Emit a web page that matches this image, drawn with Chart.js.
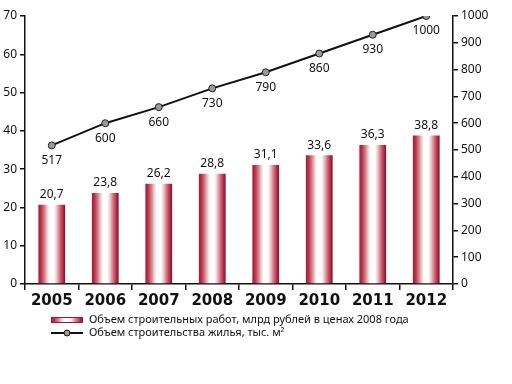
<!DOCTYPE html>
<html>
<head>
<meta charset="utf-8">
<script src="https://cdn.jsdelivr.net/npm/chart.js@4.4.0/dist/chart.umd.min.js"></script>
<style>
  html, body { margin: 0; padding: 0; background: #fff; }
  #wrap { width: 512px; height: 384px; position: relative; }
</style>
</head>
<body>
<div id="wrap"><canvas id="chart"></canvas></div>
<script>
const years = ['2005', '2006', '2007', '2008', '2009', '2010', '2011', '2012'];
const worksVolume = [20.7, 23.8, 26.2, 28.8, 31.1, 33.6, 36.3, 38.8];
const housingVolume = [517, 600, 660, 730, 790, 860, 930, 1000];
const worksLabel = 'Объем строительных работ, млрд рублей в ценах 2008 года';
const housingLabel = 'Объем строительства жилья, тыс. м²';

const textFont = '"Noto Sans", sans-serif';
const barPercent = 0.5;

// horizontal stripe gradient, like two shiny cylinders side by side
function stripeGradient(c, left, width) {
    const g = c.createLinearGradient(left, 0, left + width, 0);
    g.addColorStop(0, '#a01a34');
    g.addColorStop(0.1, '#b83448');
    g.addColorStop(0.22, '#d27c88');
    g.addColorStop(0.34, '#f0d4d6');
    g.addColorStop(0.42, '#ffffff');
    g.addColorStop(0.58, '#ffffff');
    g.addColorStop(0.68, '#ecc8cc');
    g.addColorStop(0.8, '#d07080');
    g.addColorStop(0.92, '#b02a42');
    g.addColorStop(1, '#8c0a26');
    return g;
}

function barFill(context) {
    const chart = context.chart;
    const xs = chart.scales.x;
    if (!xs || context.dataIndex === undefined) return '#b4404f';
    const w = xs.width / years.length * barPercent;
    const cx = xs.getPixelForValue(context.dataIndex);
    if (!isFinite(w) || !isFinite(cx) || w <= 0) return '#b4404f';
    return stripeGradient(chart.ctx, cx - w / 2, w);
}

const valueLabels = {
    id: 'valueLabels',
    afterDatasetsDraw(chart) {
        const c = chart.ctx;
        c.save();
        c.font = '12px ' + textFont;
        c.fillStyle = '#111';
        c.textAlign = 'center';
        chart.getDatasetMeta(0).data.forEach((el, i) => {
            c.textBaseline = 'bottom';
            c.fillText(worksVolume[i].toFixed(1).replace('.', ','), el.x, el.y - 4);
        });
        chart.getDatasetMeta(1).data.forEach((el, i) => {
            c.textBaseline = 'top';
            c.fillText(String(housingVolume[i]), el.x, el.y + 9);
        });
        c.restore();
    }
};

const bottomLegend = {
    id: 'bottomLegend',
    afterDraw(chart) {
        const c = chart.ctx;
        const x0 = 51, y1 = 320, y2 = 333;
        c.save();
        c.fillStyle = stripeGradient(c, x0, 32);
        c.fillRect(x0, y1 - 3, 32, 6);
        c.strokeStyle = '#9a1830';
        c.lineWidth = 1;
        c.strokeRect(x0 + 0.5, y1 - 3 + 0.5, 31, 5);
        c.strokeStyle = '#111';
        c.lineWidth = 2;
        c.beginPath();
        c.moveTo(x0, y2);
        c.lineTo(x0 + 32, y2);
        c.stroke();
        c.beginPath();
        c.arc(x0 + 16, y2, 3, 0, Math.PI * 2);
        c.fillStyle = '#9a9a9a';
        c.fill();
        c.lineWidth = 1;
        c.stroke();
        c.font = '11px ' + textFont;
        c.fillStyle = '#111';
        c.textBaseline = 'middle';
        c.textAlign = 'left';
        c.fillText(worksLabel, x0 + 38, y1);
        c.fillText(housingLabel, x0 + 38, y2);
        c.restore();
    }
};

new Chart(document.getElementById('chart'), {
    type: 'bar',
    data: {
        labels: years,
        datasets: [
            {
                type: 'bar',
                label: worksLabel,
                data: worksVolume,
                yAxisID: 'y',
                backgroundColor: barFill,
                borderWidth: 0,
                barPercentage: barPercent,
                categoryPercentage: 1,
                order: 2
            },
            {
                type: 'line',
                label: housingLabel,
                data: housingVolume,
                yAxisID: 'y1',
                borderColor: '#111',
                borderWidth: 2,
                pointRadius: 3.5,
                pointBackgroundColor: '#9a9a9a',
                pointBorderColor: '#222',
                pointBorderWidth: 1,
                tension: 0,
                order: 1
            }
        ]
    },
    options: {
        responsive: true,
        maintainAspectRatio: false,
        animation: false,
        layout: { padding: { top: 16, bottom: 76, left: 0, right: 0 } },
        plugins: {
            legend: { display: false },
            tooltip: { enabled: false }
        },
        scales: {
            x: {
                offset: true,
                grid: {
                    offset: true,
                    drawOnChartArea: false,
                    drawTicks: true,
                    tickLength: 6,
                    color: '#111',
                    lineWidth: 1.5
                },
                border: { color: '#111', width: 1.5 },
                ticks: {
                    color: '#111',
                    padding: 2,
                    font: { family: '"DejaVu Sans", sans-serif', size: 15, weight: 'bold' }
                },
                afterFit(s) { s.height = 24; }
            },
            y: {
                position: 'left',
                min: 0,
                max: 70,
                ticks: { stepSize: 10, color: '#111', padding: 3, font: { family: textFont, size: 12 } },
                grid: { drawOnChartArea: false, tickLength: 5, color: '#111', lineWidth: 1.5 },
                border: { color: '#111', width: 1.5 },
                afterFit(s) { s.width = 25; }
            },
            y1: {
                position: 'right',
                min: 0,
                max: 1000,
                ticks: {
                    stepSize: 100,
                    color: '#111',
                    padding: 3,
                    font: { family: textFont, size: 12 },
                    callback: v => String(v)
                },
                grid: { drawOnChartArea: false, tickLength: 5, color: '#111', lineWidth: 1.5 },
                border: { color: '#111', width: 1.5 },
                afterFit(s) { s.width = 59; }
            }
        }
    },
    plugins: [valueLabels, bottomLegend]
});
</script>
</body>
</html>
